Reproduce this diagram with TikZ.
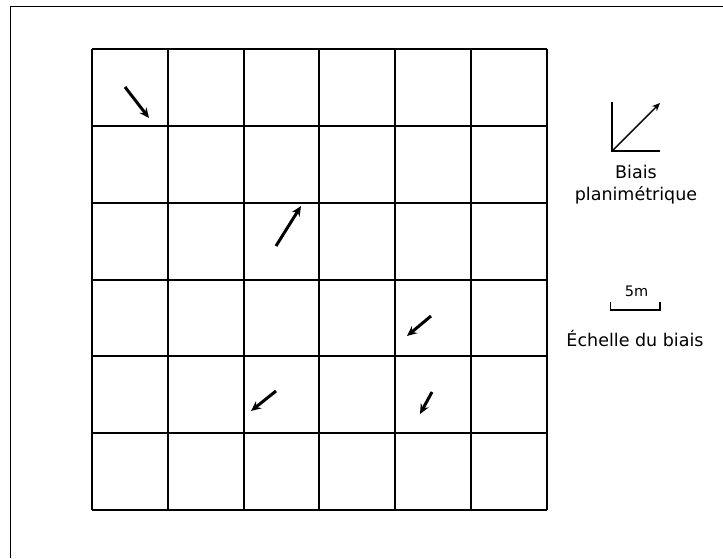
\documentclass[tikz,border=0pt]{standalone}
\usepackage{fontspec}
\setmainfont{DejaVu Sans}
\usetikzlibrary{arrows.meta}
\begin{document}
\begin{tikzpicture}[
  x=1pt, y=-1pt,
  gridline/.style={draw=black, line width=2pt},
  bias/.style={-{Stealth[length=10pt, width=9pt, inset=3.5pt]}, line width=3pt},
  legendline/.style={draw=black, line width=1.4pt},
  legendtext/.style={align=center, font=\fontsize{17.5}{22}\selectfont},
]
\useasboundingbox (0,0) rectangle (723,558);
% outer frame
\draw[line width=1.8pt, black] (10.5,558) -- (10.5,6.5) -- (723,6.5);

% grid of 6 x 6 cells
\foreach \gx in {92,168,244,319,395,471,547}
  \draw[gridline] (\gx,49) -- (\gx,510);
\foreach \gy in {49,126,203,280,356,433,510}
  \draw[gridline] (92,\gy) -- (547,\gy);

% bias vectors
\coordinate (a1s) at (125,87);   \coordinate (a1e) at (149,118);
\coordinate (a2s) at (276,246);  \coordinate (a2e) at (301,206);
\coordinate (a3s) at (431,316);  \coordinate (a3e) at (407,336);
\coordinate (a4s) at (276,391);  \coordinate (a4e) at (251,411);
\coordinate (a5s) at (432,392);  \coordinate (a5e) at (420,414);
\draw[bias] (a1s) -- (a1e);
\draw[bias] (a2s) -- (a2e);
\draw[bias] (a3s) -- (a3e);
\draw[bias] (a4s) -- (a4e);
\draw[bias] (a5s) -- (a5e);

% legend: planimetric bias
\coordinate (origin) at (612,151);
\coordinate (yaxis) at (612,102);
\coordinate (xaxis) at (660,151);
\coordinate (tip) at (660,103);
\draw[legendline] (yaxis) -- (origin) -- (xaxis);
\draw[legendline, -{Stealth[length=8pt, width=7pt, inset=2.5pt]}] (origin) -- (tip);
\node[legendtext] (biais) at (636,185) {Biais\\planimétrique};

% legend: scale
\coordinate (sl) at (610.5,301.5);
\coordinate (sr) at (660,301.5);
\draw[legendline, line width=1.8pt] (sl) -- (610.5,310) -- (660,310) -- (sr);
\node[font=\fontsize{14.5}{17}\selectfont, anchor=base] (cinq) at (636.5,296) {5m};
\node[legendtext, anchor=base] (echelle) at (635,346.5) {Échelle du biais};
\end{tikzpicture}
\end{document}
